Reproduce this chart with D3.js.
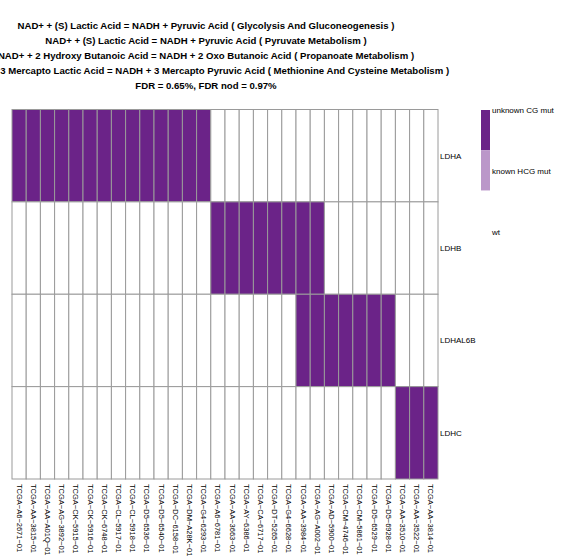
<!DOCTYPE html>
<html><head><meta charset="utf-8">
<script src="https://cdn.jsdelivr.net/npm/d3@7"></script>
<style>body{margin:0;background:#fff}svg{display:block}text{font-family:"Liberation Sans",Arial,Helvetica,sans-serif}</style>
</head><body>
<script>
const titleLines = [
  "NAD+ + (S) Lactic Acid = NADH + Pyruvic Acid ( Glycolysis And Gluconeogenesis )",
  "NAD+ + (S) Lactic Acid = NADH + Pyruvic Acid ( Pyruvate Metabolism )",
  "NAD+ + 2 Hydroxy Butanoic Acid = NADH + 2 Oxo Butanoic Acid ( Propanoate Metabolism )",
  "NAD+ + 3 Mercapto Lactic Acid = NADH + 3 Mercapto Pyruvic Acid ( Methionine And Cysteine Metabolism )",
  "FDR = 0.65%, FDR nod = 0.97%"
];
const samples = [
  "TCGA-A6-2671-01","TCGA-AA-3815-01","TCGA-AA-A01Q-01","TCGA-AG-3892-01","TCGA-CK-5915-01",
  "TCGA-CK-5916-01","TCGA-CK-6748-01","TCGA-CL-5917-01","TCGA-CL-5918-01","TCGA-D5-6536-01",
  "TCGA-D5-6540-01","TCGA-DC-6158-01","TCGA-DM-A28K-01","TCGA-G4-6293-01","TCGA-A6-6781-01",
  "TCGA-AA-3663-01","TCGA-AY-6386-01","TCGA-CA-6717-01","TCGA-DT-5265-01","TCGA-G4-6628-01",
  "TCGA-AA-3984-01","TCGA-AG-A002-01","TCGA-AD-5900-01","TCGA-CM-4746-01","TCGA-CM-5861-01",
  "TCGA-D5-6529-01","TCGA-D5-6928-01","TCGA-AA-3510-01","TCGA-AA-3522-01","TCGA-AA-3814-01"
];
const genes = ["LDHA","LDHB","LDHAL6B","LDHC"];
// 2 = unknown CG mut, 1 = known HCG mut, 0 = wt
const statusLDHA    = [2,2,2,2,2,2,2,2,2,2,2,2,2,2,0,0,0,0,0,0,0,0,0,0,0,0,0,0,0,0];
const statusLDHB    = [0,0,0,0,0,0,0,0,0,0,0,0,0,0,2,2,2,2,2,2,2,2,0,0,0,0,0,0,0,0];
const statusLDHAL6B = [0,0,0,0,0,0,0,0,0,0,0,0,0,0,0,0,0,0,0,0,2,2,2,2,2,2,2,0,0,0];
const statusLDHC    = [0,0,0,0,0,0,0,0,0,0,0,0,0,0,0,0,0,0,0,0,0,0,0,0,0,0,0,2,2,2];
const legendLabels = ["unknown CG mut","known HCG mut","wt"];
const legendValues = [2,1,0];

const statusByGene = {LDHA: statusLDHA, LDHB: statusLDHB, LDHAL6B: statusLDHAL6B, LDHC: statusLDHC};
const cells = [];
genes.forEach(g => statusByGene[g].forEach((v, i) => cells.push({gene: g, sample: samples[i], value: v})));

const W = 570, H = 556;
const svg = d3.select("body").append("svg").attr("width", W).attr("height", H);

const color = d3.scaleOrdinal().domain([2,1,0]).range(["#6b2388","#bb97c9","#ffffff"]);
const x = d3.scaleBand().domain(samples).range([12, 438]);
const y = d3.scaleBand().domain(genes).range([109.5, 479]);

// title
svg.append("g").selectAll("text").data(titleLines).join("text")
  .attr("x", 206).attr("y", (d, i) => 29.2 + i * 15)
  .attr("text-anchor", "middle").attr("font-size", 9.6).attr("font-weight", "bold")
  .attr("fill", "#000").text(d => d);

// cells
svg.append("g").selectAll("rect").data(cells).join("rect")
  .attr("x", d => x(d.sample)).attr("y", d => y(d.gene))
  .attr("width", x.bandwidth()).attr("height", y.bandwidth())
  .attr("fill", d => color(d.value))
  .attr("stroke", "#9a9a9a").attr("stroke-width", 1);

// row labels
svg.append("g").selectAll("text").data(genes).join("text")
  .attr("x", 440).attr("y", d => y(d) + y.bandwidth() / 2 + 3)
  .attr("font-size", 8).attr("fill", "#000").text(d => d);

// column labels (R pdf renders hyphens as minus signs)
svg.append("g").selectAll("text").data(samples).join("text")
  .attr("transform", d => `translate(${x(d) + x.bandwidth() / 2 - 2.6},484) rotate(90)`)
  .attr("font-size", 7.5).attr("fill", "#000").text(d => d.replace(/-/g, "\u2212"));

// legend
const ly = d3.scaleBand().domain(legendValues).range([110, 231]);
const lg = svg.append("g");
lg.selectAll("rect").data(legendValues).join("rect")
  .attr("x", 481).attr("y", d => ly(d)).attr("width", 9).attr("height", ly.bandwidth())
  .attr("fill", d => color(d));
lg.selectAll("text").data(legendValues).join("text")
  .attr("x", 492).attr("y", (d, i) => [113, 173.5, 234.5][i])
  .attr("font-size", 8).attr("fill", "#000").text((d, i) => legendLabels[i]);
</script>
</body></html>
